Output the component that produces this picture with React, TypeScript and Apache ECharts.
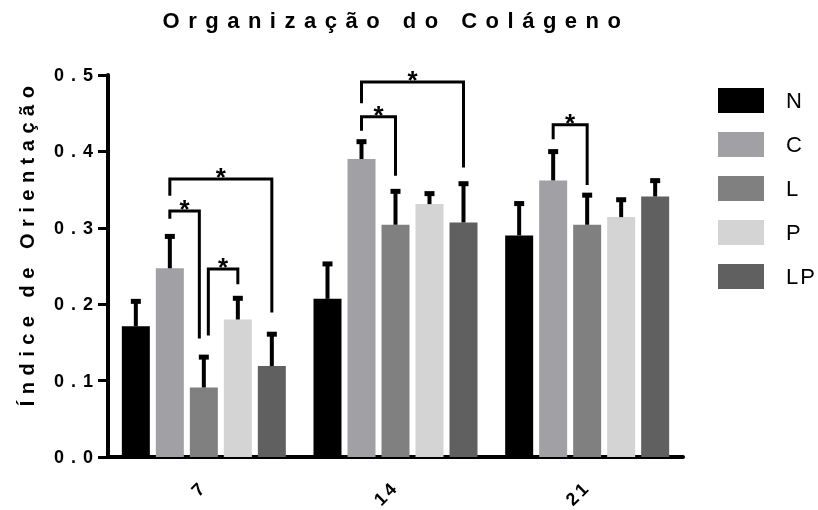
import { useEffect, useRef } from 'react';
import * as echarts from 'echarts';

const categories = ['7', '14', '21'];
const seriesNames = ['N', 'C', 'L', 'P', 'LP'];
const seriesColors = ['#000000', '#a1a0a4', '#808080', '#d4d4d4', '#606060'];

const meanN = [0.171, 0.207, 0.29];
const meanC = [0.247, 0.39, 0.362];
const meanL = [0.091, 0.304, 0.304];
const meanP = [0.18, 0.331, 0.314];
const meanLP = [0.119, 0.307, 0.341];

const errTopN = [0.207, 0.256, 0.335];
const errTopC = [0.292, 0.416, 0.403];
const errTopL = [0.134, 0.351, 0.346];
const errTopP = [0.211, 0.348, 0.34];
const errTopLP = [0.164, 0.361, 0.365];

const yTickLabels = ['0.0', '0.1', '0.2', '0.3', '0.4', '0.5'];

// [category index, from series, to series, bracket top, left leg end, right leg end, left leg side, right leg side]
const brackets = [
  [0, 1, 4, 0.364, 0.342, 0.189, 0, 0],
  [0, 1, 2, 0.322, 0.312, 0.155, 0, -1],
  [0, 2, 3, 0.246, 0.159, 0.226, 1, 0],
  [1, 1, 4, 0.491, 0.463, 0.379, 0, 0],
  [1, 1, 2, 0.4455, 0.427, 0.368, 0, 0],
  [2, 1, 2, 0.435, 0.416, 0.356, 0, 0],
];
const starLabel = '*';

const titleText = 'Organização do Colágeno';
const yAxisTitle = 'Índice de Orientação';

const FONT = '"Liberation Sans", Arial, Helvetica, sans-serif';
const BAR_W = 28;
const BAR_GAP = 6;
const STEP = BAR_W + BAR_GAP;
const LEG_NUDGE = 4.5;

const spacingMap: Record<string, number> = {
  [titleText]: 8.5,
  [yAxisTitle]: 6.5,
  LP: 2,
  '7': 3,
  '14': 3,
  '21': 3,
};
yTickLabels.forEach((l) => (spacingMap[l] = 7));

export default function App() {
  const ref = useRef<HTMLDivElement>(null);
  useEffect(() => {
    const el = ref.current!;
    const chart = echarts.init(el, null, { renderer: 'svg' });
    const means = [meanN, meanC, meanL, meanP, meanLP];
    const tops = [errTopN, errTopC, errTopL, errTopP, errTopLP];
    const errData: number[][] = [];
    means.forEach((arr, si) =>
      arr.forEach((v, ci) => errData.push([ci, si, v, tops[si][ci]]))
    );
    const nSeries = seriesNames.length;
    const mid = (nSeries - 1) / 2;

    const option: any = {
      animation: false,
      title: {
        text: titleText,
        left: 396,
        top: 9,
        padding: 0,
        textAlign: 'center',
        textStyle: { fontFamily: FONT, fontSize: 22, fontWeight: 'bold', color: '#000' },
      },
      legend: {
        data: seriesNames,
        orient: 'vertical',
        left: 718,
        top: 88,
        padding: 0,
        icon: 'rect',
        itemWidth: 46,
        itemHeight: 25,
        itemGap: 19,
        textStyle: { fontFamily: FONT, fontSize: 22, color: '#000', padding: [2, 0, 0, 17] },
      },
      grid: { left: 108, right: 135, top: 75, bottom: 53 },
      xAxis: {
        type: 'category',
        data: categories,
        axisLine: { lineStyle: { color: '#000', width: 4 } },
        axisTick: { alignWithLabel: true, length: 9, lineStyle: { color: '#000', width: 3 } },
        axisLabel: {
          rotate: 45,
          margin: 27,
          fontFamily: FONT,
          fontSize: 18,
          fontWeight: 'bold',
          color: '#000',
        },
        splitLine: { show: false },
      },
      yAxis: {
        type: 'value',
        min: 0,
        max: 0.5,
        interval: 0.1,
        axisLine: { show: true, lineStyle: { color: '#000', width: 4 } },
        axisTick: { show: true, length: 10, lineStyle: { color: '#000', width: 3 } },
        axisLabel: {
          margin: 8,
          fontFamily: FONT,
          fontSize: 18,
          fontWeight: 'bold',
          color: '#000',
          formatter: (v: number) => yTickLabels[Math.round(v * 10)],
        },
        splitLine: { show: false },
      },
      graphic: [
        {
          type: 'text',
          x: 27,
          y: 243,
          rotation: Math.PI / 2,
          style: {
            text: yAxisTitle,
            textAlign: 'center',
            textVerticalAlign: 'middle',
            fontFamily: FONT,
            fontSize: 20,
            fontWeight: 'bold',
            fill: '#000',
          },
        },
      ],
      series: [
        ...seriesNames.map((name, si) => ({
          name,
          type: 'bar',
          data: means[si],
          barWidth: BAR_W,
          barGap: (BAR_GAP / BAR_W) * 100 + '%',
          itemStyle: { color: seriesColors[si] },
        })),
        {
          type: 'custom',
          name: 'err',
          data: errData,
          encode: { x: 0, y: [2, 3] },
          z: 5,
          renderItem: (_p: any, api: any) => {
            const ci = api.value(0);
            const si = api.value(1);
            const base = api.coord([ci, api.value(2)]);
            const top = api.coord([ci, api.value(3)]);
            const x = base[0] + (si - mid) * STEP;
            return {
              type: 'group',
              children: [
                {
                  type: 'line',
                  shape: { x1: x, y1: base[1], x2: x, y2: top[1] + 2 },
                  style: { stroke: '#000', lineWidth: 4 },
                },
                {
                  type: 'rect',
                  shape: { x: x - 5, y: top[1], width: 10, height: 5 },
                  style: { fill: '#000' },
                },
              ],
            };
          },
        },
        {
          type: 'custom',
          name: 'sig',
          data: brackets,
          encode: { x: 0, y: [3, 4, 5] },
          clip: false,
          z: 6,
          renderItem: (_p: any, api: any) => {
            const ci = api.value(0);
            const a = api.value(1);
            const b = api.value(2);
            const yTop = api.coord([ci, api.value(3)])[1];
            const yL = api.coord([ci, api.value(4)])[1];
            const yR = api.coord([ci, api.value(5)])[1];
            const cx = api.coord([ci, 0])[0];
            const xl = cx + (a - mid) * STEP + api.value(6) * LEG_NUDGE;
            const xr = cx + (b - mid) * STEP + api.value(7) * LEG_NUDGE;
            return {
              type: 'group',
              children: [
                {
                  type: 'polyline',
                  shape: { points: [[xl, yL], [xl, yTop], [xr, yTop], [xr, yR]] },
                  style: { stroke: '#000', lineWidth: 3, fill: 'none' },
                },
                {
                  type: 'text',
                  x: (xl + xr) / 2,
                  y: yTop - 2,
                  style: {
                    text: starLabel,
                    textAlign: 'center',
                    textVerticalAlign: 'middle',
                    fontFamily: FONT,
                    fontSize: 26,
                    fontWeight: 'bold',
                    fill: '#000',
                  },
                },
              ],
            };
          },
        },
      ],
    };
    chart.setOption(option);

    const apply = () => {
      el.querySelectorAll('text').forEach((t) => {
        const s = (t.textContent || '').trim();
        if (s in spacingMap) t.setAttribute('letter-spacing', String(spacingMap[s]));
      });
    };
    chart.on('rendered', apply);
    apply();
    const t1 = setTimeout(apply, 30);
    const t2 = setTimeout(apply, 200);
    return () => {
      clearTimeout(t1);
      clearTimeout(t2);
      chart.dispose();
    };
  }, []);
  return (
    <div
      ref={ref}
      style={{ position: 'fixed', left: 0, top: 0, width: 818, height: 510 }}
    />
  );
}
